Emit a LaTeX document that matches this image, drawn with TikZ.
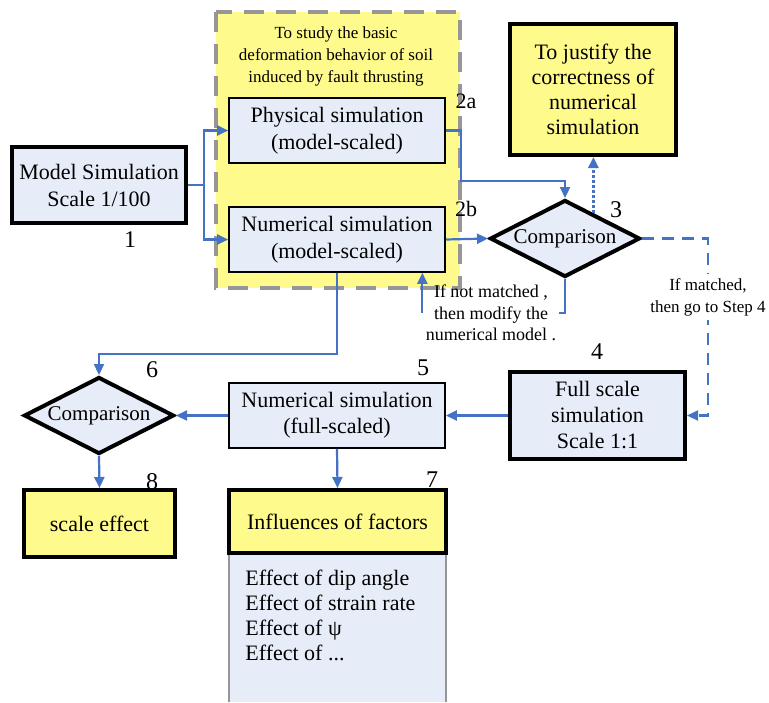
\documentclass[tikz,border=0pt]{standalone}
\usepackage{fontspec}
\setmainfont{Liberation Serif}
\usepackage{tikz}
\usetikzlibrary{arrows.meta, shapes.geometric, calc}
\definecolor{flowblue}{RGB}{68,114,196}
\definecolor{boxblue}{RGB}{231,237,248}
\definecolor{noteyellow}{RGB}{255,250,140}
\definecolor{framegray}{RGB}{150,150,150}

\begin{document}
\begin{tikzpicture}[x=0.5pt, y=-0.5pt,
    every node/.style={font=\fontsize{11}{13.5}\selectfont, align=center},
    stage/.style={draw, fill=boxblue, line width=0.8pt, inner sep=1pt},
    keystage/.style={stage, line width=2pt},
    goal/.style={draw, fill=noteyellow, line width=2pt, inner sep=1pt},
    decide/.style={diamond, aspect=2, draw, fill=boxblue, line width=2pt, inner sep=0pt,
        minimum width=75pt, minimum height=38.5pt, font=\fontsize{10.5}{12}\selectfont},
    stepno/.style={font=\fontsize{12}{14}\selectfont, inner sep=0pt},
    note/.style={font=\fontsize{8.5}{11}\selectfont},
    flow/.style={flowblue, line width=1.1pt, -{Triangle[length=5.5pt, width=5pt]}},
    ]
  \useasboundingbox (0,0) rectangle (769,702);

  % model-scale frame
  \fill[noteyellow] (216,12) rectangle (460,288);
  \draw[framegray, line width=2.2pt, dash pattern=on 10pt off 6pt] (216,12) rectangle (460,288);
  \node[note] (aim) at (336,56) {To study the basic\\deformation behavior of soil\\induced by fault thrusting};

  \node[keystage, minimum width=87pt, minimum height=38pt] (model) at (99,185) {Model Simulation\\Scale 1/100};
  \node[stage, minimum width=108pt, minimum height=32.5pt] (phys) at (337,130.5) {Physical simulation\\(model-scaled)};
  \node[stage, minimum width=108pt, minimum height=32.5pt] (num) at (337,239.5) {Numerical simulation\\(model-scaled)};
  \node[goal, minimum width=83pt, minimum height=65.5pt, font=\fontsize{11}{12.4}\selectfont] (just) at (593,89.5) {To justify the\\correctness of\\numerical\\simulation};
  \node[decide] (cmp1) at (565,238.5) {Comparison};

  \node[keystage, minimum width=87.5pt, minimum height=43.5pt, font=\fontsize{11}{13}\selectfont] (full) at (597.5,415.5) {Full scale\\simulation\\Scale 1:1};
  \node[stage, minimum width=108pt, minimum height=32.5pt, font=\fontsize{11}{13}\selectfont] (res) at (337,415.5) {Numerical simulation\\(full-scaled)};
  \node[decide] (cmp2) at (99,415.5) {Comparison};
  \node[goal, minimum width=75.5pt, minimum height=33.5pt] (scale) at (99.5,523.5) {scale effect};

  % factor list
  \fill[boxblue] (229,553) rectangle (446,702);
  \draw[framegray, line width=0.8pt] (229,553) -- (229,702) (446,553) -- (446,702);
  \node[goal, minimum width=108.5pt, minimum height=31.5pt] (infl) at (337.5,521.5) {Influences of factors};
  \node[anchor=west, align=left, inner sep=0pt, font=\fontsize{11}{12.5}\selectfont] (effects) at (245,615.5)
    {Effect of dip angle\\Effect of strain rate\\Effect of ψ\\Effect of ...};

  % step numbers
  \node[stepno] (s1) at (130,240) {1};
  \node[stepno, font=\fontsize{11}{13}\selectfont] (s2a) at (466,101) {2a};
  \node[stepno, font=\fontsize{11}{13}\selectfont] (s2b) at (466,209) {2b};
  \node[stepno] (s3) at (616,210) {3};
  \node[stepno] (s4) at (597,352) {4};
  \node[stepno] (s5) at (423,368) {5};
  \node[stepno] (s6) at (152,370) {6};
  \node[stepno] (s7) at (432,480) {7};
  \node[stepno] (s8) at (152,482) {8};

  % connectors
  \draw[flow] (model.east) -- ++(16,0) |- (phys.west);
  \draw[flow] (model.east) -- ++(16,0) |- (num.west);
  \draw[flow] (phys.east) -- ++(15,0) |- ($(cmp1.north)+(0,-17)$) -- (cmp1.north);
  \draw[flow] (num.east) -- (cmp1.west);
  \draw[flow, line width=1.6pt, dash pattern=on 1.5pt off 1pt] (cmp1.42) -- (cmp1.42 |- just.south);

  \node[note, font=\fontsize{9}{10.75}\selectfont, inner sep=1pt] (retry) at (491,313) {If not matched ,\\then modify the\\numerical model .};
  \draw[flowblue, line width=1.1pt] (cmp1.south) |- (retry.east);
  \draw[flow] ([xshift=-0.5pt]retry.west) -- ([xshift=-0.5pt]retry.west |- num.south);

  \coordinate (turn) at (708,0);
  \draw[flow, dash pattern=on 6pt off 4pt] (cmp1.east) -- (cmp1.east -| turn) |- (full.east);
  \node[note, fill=white, inner sep=2pt] (match) at (708,297) {If matched,\\then go to Step 4};

  \draw[flow] (full.west) -- (res.east);
  \draw[flow] (res.west) -- (cmp2.east);
  \draw[flow] (num.south) -- ++(0,81) -| (cmp2.north);
  \draw[flow] (cmp2.south) -- (scale.north);
  \draw[flow] (res.south) -- (infl.north);
\end{tikzpicture}
\end{document}
